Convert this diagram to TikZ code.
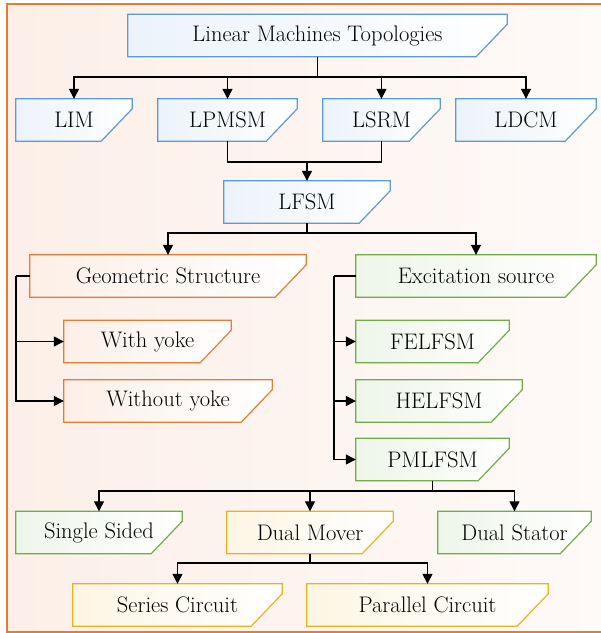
\documentclass[tikz,border=0pt]{standalone}
\usepackage{fontspec}
\usetikzlibrary{arrows.meta,calc,backgrounds}
\definecolor{topoB}{RGB}{91,155,213}
\definecolor{topoO}{RGB}{233,122,52}
\definecolor{topoG}{RGB}{112,173,71}
\definecolor{topoY}{RGB}{236,178,30}
\definecolor{frameF}{RGB}{252,239,232}
\definecolor{frameR}{RGB}{254,250,248}

\begin{document}
\begin{tikzpicture}[x=1pt,y=-1pt,
  tb/.style={minimum height=42pt,inner sep=0,font=\fontsize{22.5}{26}\selectfont},
  ln/.style={line width=1.3pt,black},
  arr/.style={ln,-{Triangle[length=10pt,width=10pt]}}]
 \useasboundingbox (0,0) rectangle (601,633);
 % frame
 \begin{scope}[on background layer]
  \draw[topoO,line width=1.4pt,left color=frameF,right color=frameR] (7,4) rectangle (608,632);
 \end{scope}
 % level 1
 \node[tb,minimum width=379pt] (top) at (317.5,35.5) {Linear Machines Topologies};
 \node[tb,minimum width=116pt] (lim) at (74,120) {LIM};
 \node[tb,minimum width=139pt] (lpmsm) at (227.5,120) {LPMSM};
 \node[tb,minimum width=117pt] (lsrm) at (381.5,120) {LSRM};
 \node[tb,minimum width=140pt] (ldcm) at (526,120) {LDCM};
 \node[tb,minimum width=166pt] (lfsm) at (307,202) {LFSM};
 % geometry branch
 \node[tb,minimum width=276pt] (geo) at (168,276) {Geometric Structure};
 \node[tb,minimum width=167pt] (wy) at (147.5,341.5) {With yoke};
 \node[tb,minimum width=208pt] (woy) at (168,401) {Without yoke};
 % excitation branch
 \node[tb,minimum width=240pt] (exc) at (476,276) {Excitation source};
 \node[tb,minimum width=153pt] (fe) at (432.5,341.5) {FELFSM};
 \node[tb,minimum width=166pt] (he) at (439,401) {HELFSM};
 \node[tb,minimum width=153pt] (pm) at (432.5,459.5) {PMLFSM};
 % PMLFSM types
 \node[tb,minimum width=166pt] (ss) at (99,532.5) {Single Sided};
 \node[tb,minimum width=166pt] (dm) at (310,532.5) {Dual Mover};
 \node[tb,minimum width=153pt] (ds) at (514.5,532.5) {Dual Stator};
 \node[tb,minimum width=209pt] (sc) at (177.5,605) {Series Circuit};
 \node[tb,minimum width=241pt] (pc) at (427.5,605) {Parallel Circuit};
 % box outlines with cut corner
 \begin{scope}[on background layer]
  \foreach \n/\c in {top/topoB,lim/topoB,lpmsm/topoB,lsrm/topoB,ldcm/topoB,lfsm/topoB,
    geo/topoO,wy/topoO,woy/topoO,exc/topoG,fe/topoG,he/topoG,pm/topoG,
    ss/topoG,dm/topoY,ds/topoG,sc/topoY,pc/topoY}
   \draw[\c,line width=1.2pt,left color=\c!12!white,right color=white]
    (\n.north west) -- (\n.north east) -- ([yshift=-10pt]\n.north east)
    -- ([xshift=-31pt]\n.south east) -- (\n.south west) -- cycle;
 \end{scope}
 % connectors
 \coordinate (j1) at (317.5,77);
 \coordinate (j2) at (307,162);
 \coordinate (j3) at (307,233);
 \coordinate (jg) at (16,276);
 \coordinate (je) at (334,276);
 \coordinate (j4) at (432.5,491);
 \coordinate (j5) at (310,563);
 \draw[ln] (top) -- (j1);
 \foreach \n in {lim,lpmsm,lsrm,ldcm} \draw[arr] (j1) -| (\n.north);
 \draw[ln] (lpmsm.south) |- (j2) -| (lsrm.south);
 \draw[arr] (j2) -- (lfsm.north);
 \draw[ln] (lfsm) -- (j3);
 \draw[arr] (j3) -| (geo.north);
 \draw[arr] (j3) -| (exc.north);
 \draw[ln] (geo.west) -- (jg);
 \foreach \n in {wy,woy} \draw[arr] (jg) |- (\n.west);
 \draw[ln] (exc.west) -- (je);
 \foreach \n in {fe,he,pm} \draw[arr] (je) |- (\n.west);
 \draw[ln] (pm) -- (j4);
 \foreach \n in {ss,dm,ds} \draw[arr] (j4) -| (\n.north);
 \draw[ln] (dm) -- (j5);
 \foreach \n in {sc,pc} \draw[arr] (j5) -| (\n.north);
\end{tikzpicture}
\end{document}
